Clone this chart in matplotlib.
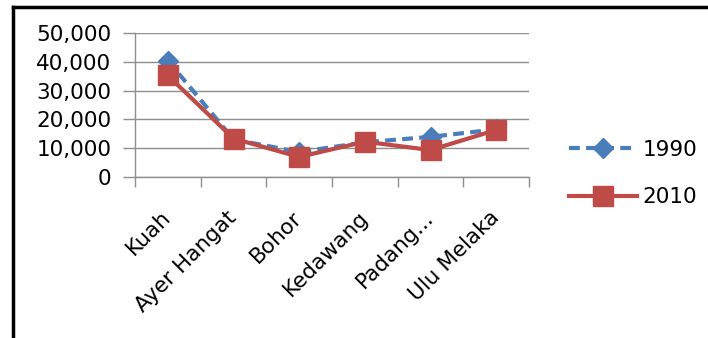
import matplotlib
matplotlib.use("Agg")
import matplotlib.pyplot as plt
from matplotlib.lines import Line2D
from matplotlib.ticker import FuncFormatter, FixedLocator

# population by mukim
places = ["Kuah", "Ayer Hangat", "Bohor", "Kedawang", "Padang...", "Ulu Melaka"]
pop_1990 = [40500, 13000, 8600, 12000, 13900, 16500]
pop_2010 = [35300, 13300, 6900, 12200, 9300, 16300]
yticks = [0, 10000, 20000, 30000, 40000, 50000]

blue = "#4A7EBB"
red = "#BE4B48"
grid_col = "#8E8E8E"

plt.rcParams["font.family"] = ["DejaVu Sans"]
fs = 15.5

W, H = 708, 338
fig = plt.figure(figsize=(W / 100, H / 100), dpi=100)
ax = fig.add_axes([135 / W, 1 - 176.7 / H, (529 - 135) / W, (176.7 - 33.3) / H])

x = list(range(len(places)))
ax.plot(x, pop_1990, color=blue, lw=3, ls=(0, (2.6, 1.5)), marker="D", ms=10,
        mec=blue, mfc=blue, label="1990", zorder=3)
ax.plot(x, pop_2010, color=red, lw=3, marker="s", ms=14,
        mec=red, mfc=red, label="2010", zorder=4)

ax.set_xlim(-0.5, len(places) - 0.5)
ax.set_ylim(0, 50000)
ax.set_yticks(yticks)
ax.yaxis.set_major_formatter(FuncFormatter(lambda v, p: f"{int(v):,}"))
ax.grid(axis="y", color=grid_col, lw=1)
ax.set_axisbelow(True)

ax.set_xticks(x)
ax.set_xticklabels(places, rotation=45, ha="right", va="center",
                   rotation_mode="anchor", fontsize=fs)
ax.xaxis.set_minor_locator(FixedLocator([i - 0.5 for i in range(len(places) + 1)]))
ax.tick_params(axis="x", which="major", length=0, pad=27)
ax.tick_params(axis="x", which="minor", length=7, color=grid_col, width=1, direction="out")
ax.tick_params(axis="y", length=9, color=grid_col, width=1, pad=8, labelsize=fs)

for s in ["top", "right"]:
    ax.spines[s].set_visible(False)
for s in ["left", "bottom"]:
    ax.spines[s].set_color(grid_col)
    ax.spines[s].set_linewidth(1)

ax.legend(loc="center left", bbox_to_anchor=(569 / W, 1 - 173.5 / H),
          bbox_transform=fig.transFigure, frameon=False, fontsize=fs,
          handlelength=3.15, handletextpad=0.27, labelspacing=1.27,
          borderpad=0, borderaxespad=0)

# chart frame (only top and left edges visible in the crop)
fig.add_artist(Line2D([12.5 / W, 1], [1 - 7 / H, 1 - 7 / H], color="black", lw=2.5,
                      transform=fig.transFigure))
fig.add_artist(Line2D([12.5 / W, 12.5 / W], [0, 1 - 7 / H], color="black", lw=2.5,
                      transform=fig.transFigure))

fig.savefig("out.png", dpi=100)
